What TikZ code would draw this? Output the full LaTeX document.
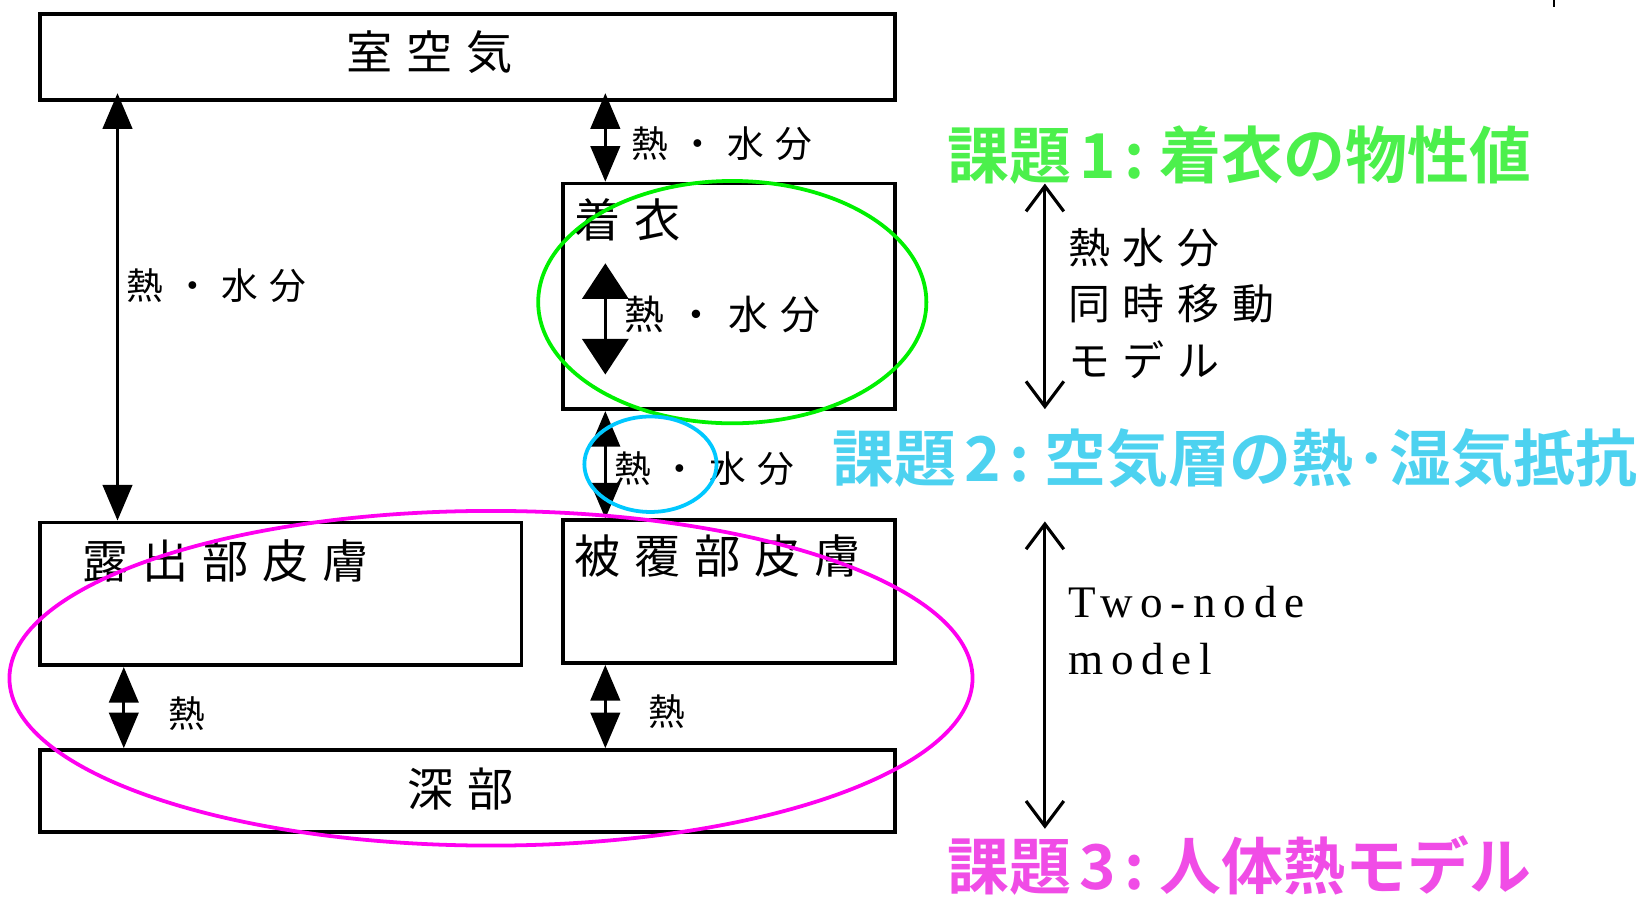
\documentclass[tikz,border=0pt]{standalone}
\usepackage{fontspec}
\usetikzlibrary{arrows.meta,fit}
\newfontfamily\jpbox[LetterSpace=30]{Noto Sans CJK JP}
\newfontfamily\jpside[LetterSpace=30]{Noto Sans CJK JP}
\newfontfamily\jptitle[UprightFont=* Bold]{Noto Sans CJK JP}
\newfontfamily\twonode[LetterSpace=17]{Liberation Serif}
\definecolor{ringgreen}{HTML}{00F000}
\definecolor{ringcyan}{HTML}{00C8FF}
\definecolor{ringmagenta}{HTML}{FF00F0}
\definecolor{taskgreen}{HTML}{4CF04C}
\definecolor{taskcyan}{HTML}{4DD2F0}
\definecolor{taskmagenta}{HTML}{F04CE6}
\newcommand\taskdot{\makebox[17pt][c]{·}}
\newcommand\tasknum[1]{\kern4pt #1\kern4pt:\kern7pt}

\begin{document}
\begin{tikzpicture}[
  x=0.5pt,
  y=-0.5pt,
  box/.style={draw=black,line width=1.8pt,inner sep=0pt},
  boxtext/.style={font=\jpbox\fontsize{22}{26}\selectfont,inner sep=0pt,anchor=west},
  flowtext/.style={font=\jpside\fontsize{17.5}{21}\selectfont,inner sep=0pt,anchor=west},
  sidetext/.style={font=\jpside\fontsize{20}{27}\selectfont,inner sep=0pt,anchor=north west,align=left},
  tasktext/.style={font=\jptitle\fontsize{29.5}{34}\selectfont,inner sep=0pt,anchor=west},
  flow/.style={draw=black,line width=1.5pt,{Triangle[length=17pt,width=14pt]}-{Triangle[length=17pt,width=14pt]}},
  bigflow/.style={draw=black,line width=1.5pt,{Triangle[length=17pt,width=22pt]}-{Triangle[length=17pt,width=22pt]}},
  modelspan/.style={draw=black,line width=1.5pt,{Straight Barb[length=12pt,width=18pt]}-{Straight Barb[length=12pt,width=18pt]}},
  ring/.style={line width=1.8pt}
]
  \useasboundingbox (0,0) rectangle (1568,855);

  % Compartments of the room / clothing / body chain.
  \node[box,fit={(38,13) (853,95)}] (room) {};
  \node[box,fit={(537,175) (853,390)}] (cloth) {};
  \node[box,fit={(38,498) (497,634)}] (bare) {};
  \node[box,fit={(537,496) (853,632)}] (covered) {};
  \node[box,fit={(38,715) (853,793)}] (core) {};

  \node[boxtext] (roomlabel) at (330,50) {室空気};
  \node[boxtext] (clothlabel) at (547,210) {着衣};
  \node[boxtext] (barelabel) at (78,535) {露出部皮膚};
  \node[boxtext] (coveredlabel) at (547,530) {被覆部皮膚};
  \node[boxtext] (corelabel) at (388,752) {深部};

  % Exchange arrows between compartments.
  \coordinate (xL) at (112,0);
  \coordinate (xB) at (118,0);
  \coordinate (xC) at (577,0);
  \coordinate (clothtop) at (577,251);
  \coordinate (clothbot) at (577,357);

  \draw[flow,shorten <=-4pt] (room.south -| xL) -- (bare.north -| xL);
  \draw[flow,shorten <=-4pt] (room.south -| xC) -- (cloth.north -| xC);
  \draw[bigflow] (clothtop) -- (clothbot);
  \draw[flow] (cloth.south -| xC) -- (covered.north -| xC);
  \draw[flow] (bare.south -| xB) -- (core.north -| xB);
  \draw[flow] (covered.south -| xC) -- (core.north -| xC);

  \node[flowtext] (flowleft) at (120,272) {熱・水分};
  \node[flowtext] (flowroom) at (602,137) {熱・水分};
  \node[flowtext,font=\jpside\fontsize{19}{22}\selectfont] (flowcloth) at (595,300) {熱・水分};
  \node[flowtext] (flowgap) at (585,447) {熱・水分};
  \node[flowtext] (heatbare) at (160,680) {熱};
  \node[flowtext] (heatcovered) at (618,678) {熱};

  % Model ranges on the right.
  \coordinate (span1top) at (996,175);
  \coordinate (span1bot) at (996,390);
  \coordinate (span2top) at (996,497);
  \coordinate (span2bot) at (996,790);
  \draw[modelspan] (span1top) -- (span1bot);
  \draw[modelspan] (span2top) -- (span2bot);

  \node[sidetext] (coupled) at (1018,217) {熱水分\\同時移動\\モデル};
  \node[sidetext,font=\twonode\fontsize{21.5}{27.5}\selectfont] (twonode) at (1018,558) {Two-node\\model};

  \node[tasktext,text=taskgreen] (task1) at (903,148) {課題\tasknum{1}着衣の物性値};
  \node[tasktext,text=taskcyan] (task2) at (793,437) {課題\tasknum{2}空気層の熱\taskdot 湿気抵抗};
  \node[tasktext,text=taskmagenta] (task3) at (903,825) {課題\tasknum{3}人体熱モデル};

  % Highlight rings go over everything.
  \draw[ring,draw=ringgreen] (698,288) ellipse [x radius=92.5pt,y radius=57.75pt];
  \draw[ring,draw=ringcyan] (620,442.5) ellipse [x radius=31.5pt,y radius=22.75pt];
  \draw[ring,draw=ringmagenta] (468,646.5) ellipse [x radius=229.5pt,y radius=79.75pt];

  \draw[line width=1pt] (1481,0) -- (1481,7);
\end{tikzpicture}
\end{document}
